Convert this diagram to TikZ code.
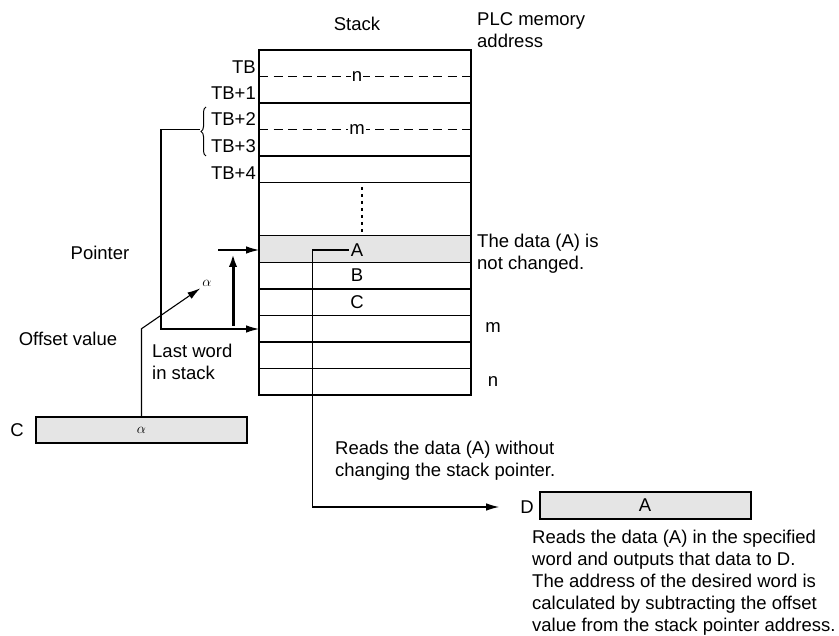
\documentclass[tikz,border=0pt]{standalone}
\usepackage{fontspec}
\setmainfont{Liberation Sans}
\usetikzlibrary{arrows.meta, positioning, decorations.pathreplacing}
\definecolor{cell1}{gray}{0.9}

\begin{document}
\begin{tikzpicture}[x=1pt, y=-1pt,
    every node/.style={font=\fontsize{18.5}{22}\selectfont, inner sep=2pt},
    row/.style={draw, line width=1.3pt, minimum width=212pt, minimum height=26.5pt, outer sep=0pt},
    frame/.style={draw, line width=2.4pt, minimum width=212pt, minimum height=345pt, outer sep=0pt},
    datacell/.style={draw, line width=2pt, fill=cell1, minimum width=211pt, minimum height=26.5pt, outer sep=0pt},
    txt/.style={align=left, anchor=west},
    sigarrow/.style={-{Latex[length=13pt, width=7.5pt]}, line width=1.1pt},
    bigarrow/.style={-{Latex[length=13pt, width=8.5pt]}, line width=3pt},
    thickline/.style={line width=2.4pt},
    dashline/.style={dash pattern=on 9pt off 5.5pt, line width=1.2pt}
]
        \useasboundingbox (0,0) rectangle (839,636);
        % \draw [help lines,step=50pt] (0,0) grid (839,636);

        % stack words
        \node[row, name=rTB, minimum height=53pt] at(365,76.5) { };
        \node[row, name=rTBb, minimum height=53pt] at(365,129.5) { };
        \node[row, name=rTBd] at(365,169) { };
        \node[row, name=rA, fill=cell1] at(365,249) { };
        \node[row, name=rB] at(365,275.5) { };
        \node[row, name=rC] at(365,302.5) { };
        \node[row, name=rM] at(365,329) { };
        \node[row, name=rL] at(365,355.5) { };
        \node[row, name=rN] at(365,382) { };
        \node[frame, name=stack] at(365,222.5) { };

        \draw[dashline] (rTB.west) -- (rTB.east);
        \draw[dashline] (rTBb.west) -- (rTBb.east);
        \draw[thickline] (rTBb.south west) -- (rTBb.south east);
        \draw[thickline] (rB.south west) -- (rB.south east);
        \draw[thickline] (rM.south west) -- (rM.south east);
        \draw[dash pattern=on 3pt off 4pt, line width=2pt] (362,187) -- (362,233);

        \node[fill=white, inner sep=1pt, name=nIn] at(357,76.5) {n};
        \node[fill=white, inner sep=1pt, name=mIn] at(357,129.5) {m};
        \node[name=lA] at(357,250) {A};
        \node[name=lB] at(357,275.5) {B};
        \node[name=lC] at(357,302.5) {C};

        \foreach \t/\y [count=\i] in {TB/67, TB+1/93, TB+2/119, TB+3/146, TB+4/173}
            \node[anchor=east, name=tb\i] at(258,\y) {\t};

        \node[name=stk] at(357,24) {Stack};
        \node[txt, name=plc] at(475,30) {PLC memory\\address};
        \node[txt, name=keep] at(475,254) {The data (A) is\\not changed.};
        \node[name=mOut] at(493,328) {m};
        \node[name=nOut] at(493,382) {n};

        % pointer and offset
        \node[name=ptr] at(100,253) {Pointer};
        \coordinate (ptrS) at(218,250);
        \draw[sigarrow] (ptrS) -- (ptrS -| rA.west);
        \coordinate (upS) at(233,326);
        \coordinate (upE) at(233,254);
        \draw[bigarrow] (upS) -- (upE);

        \draw[decorate, decoration={brace, amplitude=5pt}, line width=1pt] (206,156) -- (206,107);
        \coordinate (brtip) at(200,129.5);
        \draw[sigarrow] (brtip) -- ++(-39,0) |- (rM.west);

        \node[name=offs] at(68,339) {Offset value};
        \node[txt, name=lastw] at(150,362) {Last word\\in stack};

        \node[datacell, name=cbox] at(141.5,430) {\fontsize{15.5}{15.5}\selectfont$\alpha$};
        \node[name=cLbl] at(17,430) {C};
        \node[name=alph, font=\fontsize{15.5}{15.5}\selectfont] at(207,283) {$\alpha$};
        \draw[sigarrow] (cbox.north) -- ++(0,-88) -- (alph.south west);

        % output
        \node[datacell, name=dbox] at(645,505.5) {A};
        \node[name=dLbl] at(527,507) {D};
        \draw[sigarrow] (lA.west) -- ++(-36,0) |- ([xshift=-19pt]dLbl.west);

        \node[txt, name=rd1] at(333,461) {Reads the data (A) without\\changing the stack pointer.};
        \node[txt, name=rd2] at(530,582.5) {Reads the data (A) in the specified\\word and outputs that data to D.\\The address of the desired word is\\calculated by subtracting the offset\\value from the stack pointer address.};
\end{tikzpicture}
\end{document}
